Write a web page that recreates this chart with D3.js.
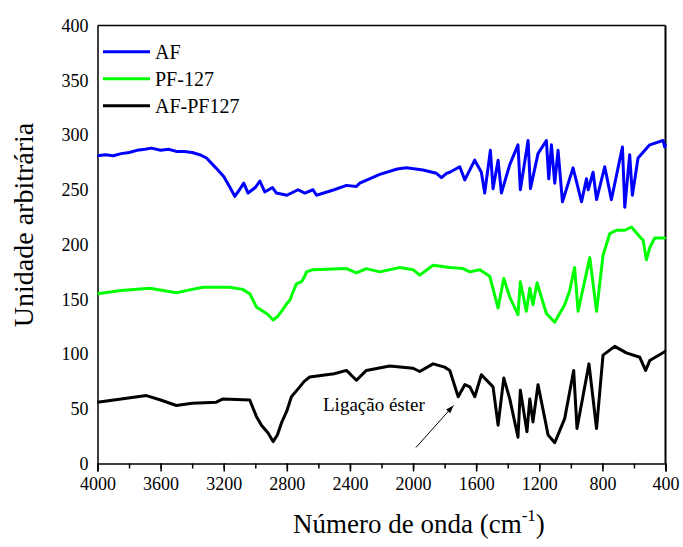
<!DOCTYPE html>
<html>
<head>
<meta charset="utf-8">
<script src="https://cdn.jsdelivr.net/npm/d3@7"></script>
<style>
  body { margin: 0; background: #fff; }
</style>
</head>
<body>
<svg id="chart" width="683" height="547"></svg>
<script>
// wavenumber (cm-1), intensity
const afData = [[4000,281],[3950,282],[3900,281],[3850,283],[3800,284],[3750,286],[3700,287],[3658,288],[3600,286],[3550,287],[3500,285],[3450,285],[3400,284],[3352,282],[3309,279],[3250,270],[3200,262],[3160,252],[3130,244],[3100,250],[3073,256],[3046,247],[3000,252],[2971,258],[2940,248],[2891,252],[2866,247],[2800,245],[2729,250],[2686,247],[2634,250],[2612,245],[2500,250],[2422,254],[2359,253],[2338,256],[2211,264],[2100,269],[2042,270],[1937,268],[1852,265],[1820,261],[1788,265],[1767,266],[1704,271],[1672,259],[1609,277],[1567,266],[1546,247],[1510,286],[1493,251],[1461,277],[1440,247],[1387,273],[1335,291],[1320,250],[1271,295],[1256,251],[1208,283],[1155,295],[1140,260],[1123,291],[1102,256],[1081,286],[1053,239],[986,270],[932,239],[901,260],[890,250],[859,266],[837,241],[785,271],[743,241],[673,289],[658,234],[627,282],[610,245],[574,279],[500,291],[416,295],[405,289],[400,292]];

const pf127Data = [[4000,155],[3850,158],[3669,160],[3500,156],[3400,159],[3331,161],[3162,161],[3080,159],[3035,155],[2993,143],[2951,139],[2920,136],[2887,131],[2860,134],[2834,139],[2800,146],[2781,149],[2760,157],[2739,164],[2707,166],[2690,170],[2675,175],[2634,177],[2422,178],[2359,174],[2296,178],[2211,175],[2084,179],[2000,177],[1958,172],[1873,181],[1767,179],[1683,178],[1640,175],[1577,177],[1514,171],[1461,142],[1425,169],[1387,152],[1335,136],[1320,166],[1282,139],[1260,160],[1240,145],[1214,165],[1155,137],[1102,129],[1039,145],[1007,158],[976,179],[954,139],[880,188],[837,139],[796,190],[753,210],[711,213],[658,213],[616,216],[563,207],[542,204],[521,186],[500,197],[468,206],[405,206],[400,207]];

const afPf127Data = [[4000,56],[3850,59],[3690,62],[3600,58],[3500,53],[3400,55],[3247,56],[3204,59],[3035,58],[2993,43],[2961,35],[2920,28],[2887,20],[2860,26],[2834,37],[2800,48],[2771,61],[2718,70],[2690,75],[2655,79],[2500,82],[2422,85],[2359,76],[2296,85],[2148,89],[2000,87],[1958,84],[1873,91],[1800,88],[1767,85],[1714,61],[1672,72],[1640,70],[1609,61],[1567,81],[1493,70],[1461,35],[1425,78],[1387,59],[1335,24],[1320,67],[1278,29],[1260,59],[1240,38],[1208,72],[1144,26],[1102,19],[1039,41],[982,85],[961,32],[885,91],[837,32],[796,99],[722,107],[648,101],[563,97],[526,85],[500,94],[405,102],[400,103]];

const seriesNames = ["AF", "PF-127", "AF-PF127"];
const seriesColors = ["#0000ff", "#00ff00", "#000000"];
const xTicks = [4000, 3600, 3200, 2800, 2400, 2000, 1600, 1200, 800, 400];
const yTicks = [0, 50, 100, 150, 200, 250, 300, 350, 400];

const FONT = 'Liberation Serif';
const svg = d3.select('#chart');
const plotLeft = 97.5, plotRight = 665.5, plotTop = 25.5, plotBottom = 463.5;

const x = d3.scaleLinear().domain([4000, 400]).range([plotLeft, plotRight]);
const y = d3.scaleLinear().domain([0, 400]).range([plotBottom, plotTop]);

// frame: top and right
svg.append('line').attr('x1', plotLeft).attr('x2', plotRight).attr('y1', plotTop).attr('y2', plotTop)
    .attr('stroke', '#000').attr('stroke-width', 1.5);
svg.append('line').attr('x1', plotRight).attr('x2', plotRight).attr('y1', plotTop).attr('y2', plotBottom)
    .attr('stroke', '#000').attr('stroke-width', 2);

// x axis with minor ticks
const xAxis = svg.append('g').attr('transform', `translate(0,${plotBottom})`);
xAxis.append('g')
    .call(d3.axisBottom(x).tickValues(d3.range(4000, 399, -200)).tickSize(5).tickFormat(''))
    .call(g => g.select('.domain').remove());
xAxis.append('g')
    .call(d3.axisBottom(x).tickValues(xTicks).tickSize(8).tickPadding(6).tickFormat(d3.format('d')));
xAxis.selectAll('g').attr('font-family', FONT);
xAxis.selectAll('.domain').attr('stroke-width', 1.5);
xAxis.selectAll('line').attr('stroke-width', 1.5);
xAxis.selectAll('text').attr('font-size', 18).attr('font-family', FONT).attr('fill', '#000');

// y axis: no tick marks, labels only
const yAxis = svg.append('g').attr('transform', `translate(${plotLeft},0)`);
yAxis.call(d3.axisLeft(y).tickValues(yTicks).tickSize(0).tickPadding(9).tickFormat(d3.format('d')));
yAxis.attr('font-family', FONT);
yAxis.select('.domain').attr('stroke-width', 1.5);
yAxis.selectAll('text').attr('font-size', 18).attr('font-family', FONT).attr('fill', '#000');

// spectra
const line = d3.line().x(d => x(d[0])).y(d => y(d[1]));
[afData, pf127Data, afPf127Data].forEach((data, i) => {
    svg.append('path')
        .datum(data)
        .attr('fill', 'none')
        .attr('stroke', seriesColors[i])
        .attr('stroke-width', 3)
        .attr('stroke-linejoin', 'round')
        .attr('d', line);
});

// legend
seriesNames.forEach((name, i) => {
    const ly = 51.7 + i * 27;
    svg.append('line').attr('x1', 103).attr('x2', 150).attr('y1', ly).attr('y2', ly)
        .attr('stroke', seriesColors[i]).attr('stroke-width', 3);
    svg.append('text').attr('x', 155).attr('y', ly + 6.8)
        .attr('font-family', FONT).attr('font-size', 20).text(name);
});

// annotation
svg.append('defs').append('marker')
    .attr('id', 'arrow').attr('viewBox', '0 0 10 10').attr('refX', 10).attr('refY', 5)
    .attr('markerWidth', 8).attr('markerHeight', 8).attr('orient', 'auto')
    .append('path').attr('d', 'M0,1.5L10,5L0,8.5Z').attr('fill', '#000');
svg.append('line').attr('x1', 416).attr('y1', 447.5).attr('x2', 453.5).attr('y2', 405.5)
    .attr('stroke', '#000').attr('stroke-width', 1).attr('marker-end', 'url(#arrow)');
svg.append('text').attr('x', 323).attr('y', 410.5)
    .attr('font-family', FONT).attr('font-size', 19).text('Ligação éster');

// axis titles
svg.append('text')
    .attr('transform', 'translate(33,225) rotate(-90)')
    .attr('text-anchor', 'middle')
    .attr('font-family', FONT)
    .attr('font-size', 28)
    .text('Unidade arbitrária');

const xt = svg.append('text').attr('x', 293).attr('y', 533)
    .attr('font-family', FONT).attr('font-size', 27);
xt.append('tspan').text('Número de onda (cm');
xt.append('tspan').attr('font-size', 17).attr('dy', -12).text('-1');
xt.append('tspan').attr('dy', 12).text(')');
</script>
</body>
</html>
